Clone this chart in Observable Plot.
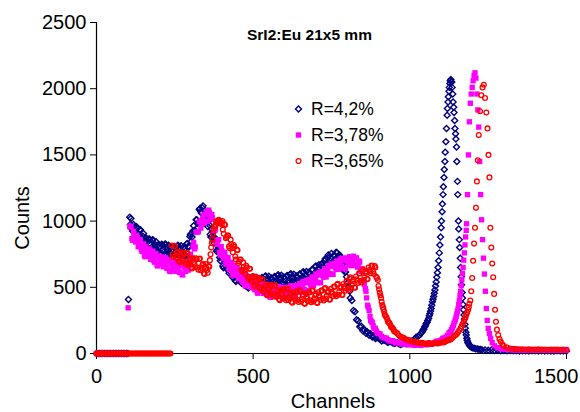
<!DOCTYPE html>
<html>
<head>
<meta charset="utf-8">
<script src="https://cdn.jsdelivr.net/npm/d3@7"></script>
<script src="https://cdn.jsdelivr.net/npm/@observablehq/plot@0.6"></script>
<style>
  html, body { margin: 0; padding: 0; background: #fff; }
  #chart svg { display: block; }
</style>
</head>
<body>
<div id="chart"></div>
<script>
// ---- Data (channel, counts) ----
const titleText = "SrI2:Eu 21x5 mm";
const xLabel = "Channels";
const yLabel = "Counts";
const xTicks = [0, 500, 1000, 1500];
const yTicks = [0, 500, 1000, 1500, 2000, 2500];
const seriesNames = ["R=4,2%", "R=3,78%", "R=3,65%"];
const seriesColors = ["#000080", "#ff00ff", "#ff0000"];

const blueData = [
  [0,0],[5,0],[10,0],[15,0],[20,0],[25,0],[30,0],[35,0],[40,0],[45,0],[50,0],[55,0],[60,0],[65,0],[70,0],[75,0],[80,0],[85,0],[90,0],[95,0],[100,0],
  [102,408],
  [106,1030],[108,975],[110,1020],[115,925],[120,955],[125,885],[130,945],[135,880],[140,935],[145,868],[150,906],[155,820],[160,855],[165,791],[170,858],[175,801],[180,860],[185,799],[190,844],[195,765],[200,806],[205,747],[210,819],[215,766],[220,828],[225,770],[230,818],[235,741],[240,785],[245,729],[250,803],[255,752],[260,817],[265,762],[270,813],[275,740],[280,788],[285,740],[290,830],[295,805],[300,900],[305,880],[310,965],[315,930],[320,1010],[325,990],[330,1095],[335,1060],[340,1115],[345,1040],[350,1065],[355,960],[360,970],[365,880],[370,920],[375,835],[380,865],[385,780],[390,800],[395,700],[400,722],[405,647],[410,705],[415,640],[420,690],[425,622],[430,660],[435,573],[440,608],[445,543],[450,610],[455,552],[460,610],[465,548],[470,592],[475,512],[480,553],[485,495],[490,567],[495,515],[500,578],
  [505,525],[510,575],[515,501],[520,547],[525,493],[530,569],[535,520],[540,586],[545,532],[550,583],[555,509],[560,555],[565,501],[570,577],[575,528],[580,594],[585,540],[590,591],[595,517],[600,563],[605,509],[610,585],[615,536],[620,602],[625,548],[630,599],[635,525],[640,572],[645,519],[650,596],[655,549],[660,617],[665,566],[670,620],[675,550],[680,600],[685,551],[690,632],[695,589],[700,661],[705,613],[710,670],[715,603],[720,680],[725,635],[730,715],[735,675],[740,745],[745,700],[750,755],[755,690],[760,740],[765,765],[770,730],[775,745],[780,705],[785,700],[790,630],[795,615],[800,530],[805,510],[810,420],[815,400],[820,325],[825,315],[830,255],[835,247],[840,202],[845,205],[850,172],[855,178],[860,152],[865,160],[870,137],[875,146],[880,124],[885,131],[890,114],[900,116],[910,94],[920,100],[930,83],[940,89],[950,75],[960,81],[970,68],[980,80],[990,75],[1000,93],[1010,95],[1020,123],[1030,135],
  [113,940],[118,975],[123,895],[128,957],[133,901],[138,934],[143,852],[148,885],[153,840],[158,874],[163,800],[168,866],[173,819],[178,857],[183,781],[188,821],[193,782],[198,823],[203,754],[208,825],[213,782],[218,824],[223,751],[228,794],[233,757],[238,800],[243,734],[248,808],[253,767],[258,812],[263,742],[268,788],[273,754],[278,802],[283,742],[288,828],[293,810],[298,883],[303,846],[308,926],[313,930],[318,1011],[323,981],[328,1088],[333,1070],[338,1100],[343,1028],[348,1050],[353,987],[358,999],[363,899],[368,939],[373,864],[378,874],[383,772],[388,787],[393,725],[398,746],[403,660],[408,717],[413,661],[418,691],[423,607],[428,640],[433,593],[438,627],[443,552],[448,618],[453,570],[458,608],[463,531],[468,569],[473,529],[478,570],[483,501],[488,573],[493,531],[498,574],
  [503,505],[508,550],[513,516],[518,562],[523,498],[528,574],[533,535],[538,581],[543,512],[548,558],[553,524],[558,570],[563,506],[568,582],[573,543],[578,589],[583,520],[588,566],[593,532],[598,578],[603,514],[608,590],[613,551],[618,597],[623,528],[628,574],[633,540],[638,586],[643,523],[648,600],[653,563],[658,611],[663,544],[668,593],[673,563],[678,613],[683,554],[688,635],[693,601],[698,653],[703,590],[708,643],[713,616],[718,670],[723,615],[728,700],[733,670],[738,725],[743,665],[748,720],[753,692],[758,743],[763,682],[768,760],[773,717],[778,732],[783,675],[788,680],[793,615],[798,580],[803,505],[808,470],
  [853,185],[863,165],[873,150],[883,135],[895,118],[905,108],[915,102],[925,92],[935,90],[945,82],[955,80],[965,74],[975,72],[985,76],[995,84],[1005,92],[1015,108],[1025,128],[1035,152],[1042,178],[1047,200],[1052,225],[1057,250],[1062,285],[1066,320],[1070,365],[1074,410],[1078,455],[1082,510],[1086,575],[1090,650],[1094,760],[1098,880],[1101,1000],[1104,1130],[1107,1260],[1110,1390],[1113,1520],[1117,1700],[1120,1850],[1123,1940],[1126,2010],[1129,2060],[1132,2050],[1135,2010],[1138,1900],[1141,1820],[1144,1700],[1147,1620],[1150,1450],[1153,1200],[1156,940],[1159,800],[1162,650],[1165,520],[1168,420],[1171,330],[1174,260],[1177,190],[1180,140],[1183,100],[1187,75],[1192,56],[1197,48],[1205,40],[1215,34],[1225,30],
  [1040,165],[1045,185],[1050,210],[1055,235],[1060,265],[1064,300],[1068,340],[1072,390],[1076,430],[1080,480],[1084,540],[1088,610],[1092,700],[1096,820],[1100,950],[1103,1070],[1106,1200],[1109,1330],[1112,1450],[1115,1600],[1119,1800],[1122,1900],[1125,1980],[1128,2040],[1131,2070],[1134,2050],[1137,1960],[1140,1860],[1143,1760],[1146,1660],[1149,1560],[1152,1300],[1155,1000],[1158,860],[1161,720],[1164,580],[1167,460],[1170,370],[1173,290],[1176,220],[1179,160],[1182,115],[1185,85],[1190,62],[1195,50],[1200,44],[1210,36],[1220,32],[1230,28],[1240,26],[1250,24],[1260,26],[1270,22],[1280,24],[1290,21],[1300,23],[1310,20],[1320,22],[1330,20],[1340,21],[1350,19],[1360,21],[1370,20],[1380,19],[1390,21],[1400,20],[1410,19],[1420,20],[1430,18],[1440,20],[1450,19],[1460,18],[1470,20],[1480,19],[1490,18],[1500,19]
];

const magentaData = [
  [0,0],[5,0],[10,0],[15,0],[20,0],[25,0],[30,0],[35,0],[40,0],[45,0],[50,0],[55,0],[60,0],[65,0],[70,0],[75,0],[80,0],[85,0],[90,0],[95,0],[100,0],
  [101,345],
  [106,960],[110,960],[115,855],[120,895],[125,842],[130,880],[135,820],[140,860],[145,770],[150,828],[155,731],[160,780],[165,735],[170,780],[175,726],[180,773],[185,690],[190,753],[195,661],[200,715],[205,674],[210,723],[215,673],[220,723],[225,643],[230,708],[235,619],[240,675],[245,636],[250,687],[255,638],[260,690],[265,612],[270,680],[275,593],[280,652],[285,620],[290,685],[295,660],[300,750],[305,720],[310,840],[315,805],[320,915],[325,920],[330,1000],[335,975],[340,1045],[345,985],[350,1070],[355,1000],[360,1065],[365,1015],[370,1025],[375,930],[380,940],[385,825],[390,860],[395,745],[400,777],[405,718],[410,751],[415,687],[420,725],[425,634],[430,690],[435,592],[440,640],[445,593],[450,637],[455,582],[460,627],[465,543],[470,604],[475,510],[480,562],[485,519],[490,567],[495,515],[500,563],
  [505,482],[510,546],[515,455],[520,510],[525,470],[530,521],[535,472],[540,523],[545,445],[550,512],[555,424],[560,482],[565,445],[570,498],[575,452],[580,506],[585,430],[590,500],[595,415],[600,475],[605,441],[610,497],[615,454],[620,511],[625,439],[630,512],[635,431],[640,495],[645,465],[650,525],[655,485],[660,545],[665,476],[670,552],[675,474],[680,541],[685,513],[690,575],[695,538],[700,601],[705,534],[710,612],[715,535],[720,603],[725,576],[730,639],[735,602],[740,665],[745,598],[750,676],[755,598],[760,665],[765,636],[770,697],[775,657],[780,717],[785,646],[790,720],[795,639],[800,702],[805,670],[810,727],[815,684],[820,735],[825,666],[830,722],[835,657],[840,690],[845,620],[850,620],[855,520],[860,470],[865,365],[870,325],[875,250],[880,235],[885,192],[890,190],[896,154],[905,148],[915,119],[925,116],[935,95],[945,97],[955,80],[965,85],[975,71],[985,77],[995,65],[1005,73],[1015,62],[1025,71],[1035,61],[1045,73],[1055,65],[1065,79],[1075,75],[1085,93],[1095,93],[1105,115],[1115,123],[1125,155],
  [108,955],[113,868],[118,923],[123,864],[128,892],[133,806],[138,836],[143,786],[148,818],[153,741],[158,805],[163,754],[168,789],[173,710],[178,746],[183,703],[188,741],[193,669],[198,737],[203,691],[208,730],[213,655],[218,695],[223,655],[228,695],[233,626],[238,697],[243,653],[248,694],[253,620],[258,661],[263,623],[268,666],[273,599],[278,672],[283,633],[288,685],[293,630],[298,705],[303,710],[308,805],[313,790],[318,915],[323,920],[328,995],[333,947],[338,1009],[343,989],[348,1049],[353,999],[358,1083],[363,1037],[368,1050],[373,930],[378,928],[383,851],[388,859],[393,762],[398,808],[403,743],[408,765],[413,675],[418,702],[423,650],[428,681],[433,602],[438,665],[443,613],[448,646],[453,566],[458,601],[463,557],[468,593],[473,519],[478,585],[483,537],[488,575],[493,498],[498,536],
  [503,494],[508,533],[513,462],[518,532],[523,487],[528,528],[533,454],[538,495],[543,456],[548,498],[553,430],[558,503],[563,461],[568,504],[573,432],[578,476],[583,440],[588,485],[593,420],[598,495],[603,455],[608,501],[613,433],[618,480],[623,447],[628,495],[633,434],[638,513],[643,478],[648,528],[653,463],[658,513],[663,483],[668,534],[673,476],[678,558],[683,525],[688,577],[693,514],[698,567],[703,540],[708,593],[713,536],[718,619],[723,587],[728,640],[733,578],[738,631],[743,604],[748,657],[753,600],[758,682],[763,648],[768,699],[773,635],[778,685],[783,654],[788,703],[793,642],[798,721],[803,684],[808,731],[813,663],[818,710],[823,676],[828,719],[833,652],[838,699],[843,627],[848,640],[853,550],
  [858,490],[862,420],[867,350],[873,280],[878,240],[883,210],[888,188],[893,170],[900,150],[910,130],[920,118],[930,104],[940,96],[950,88],[960,82],[970,78],[980,74],[990,70],[1000,68],[1010,66],[1020,64],[1030,64],[1040,66],[1050,69],[1060,72],[1070,77],[1080,84],[1090,92],[1100,102],[1110,116],[1120,138],[1128,160],[1133,180],[1139,212],[1144,245],[1148,280],[1152,320],[1156,370],[1160,435],[1164,515],[1168,605],[1172,705],[1176,820],[1180,930],
  [1130,165],[1136,195],[1141,230],[1146,260],[1150,300],[1154,340],[1158,400],[1162,470],[1166,560],[1170,650],[1174,760],[1178,880],[1181,980],[1184,1200],[1187,1500],[1190,1750],[1193,1890],[1196,1960],[1199,2010],[1202,2060],[1205,2100],[1208,2120],[1211,2080],[1214,1960],[1217,1840],[1220,1710],[1223,1450],[1226,1200],[1229,1010],[1232,860],[1235,720],[1238,600],[1241,470],[1244,340],[1247,250],[1250,190],[1254,150],[1258,115],[1263,82],[1270,58],[1280,44],[1290,36],[1300,33],[1310,30],[1320,29],[1330,27],[1340,28],[1350,26],[1360,27],[1370,25],[1380,27],[1390,26],[1400,25],[1410,26],[1420,24],[1430,26],[1440,25],[1450,24],[1460,25],[1470,24],[1480,25],[1490,24],[1500,23]
];

const redData = [
  [0,0],[4,0],[8,0],[12,0],[16,0],[20,0],[24,0],[28,0],[32,0],[36,0],[40,0],[44,0],[48,0],[52,0],[56,0],[60,0],[64,0],[68,0],[72,0],[76,0],[80,0],[84,0],[88,0],[92,0],[96,0],[100,0],[104,0],[108,0],[112,0],[116,0],[120,0],[124,0],[128,0],[132,0],[136,0],[140,0],[144,0],[148,0],[152,0],[156,0],[160,0],[164,0],[168,0],[172,0],[176,0],[180,0],[184,0],[188,0],[192,0],[196,0],[200,0],[204,0],[208,0],[212,0],[216,0],[220,0],[224,0],[228,0],[232,0],[236,0],
  [240,815],[245,730],[250,812],[255,740],[260,768],[265,690],[270,738],[275,697],[280,755],[285,674],[290,758],[295,687],[300,717],[305,642],[310,692],[315,652],[320,712],[325,632],[330,717],[335,647],[340,676],[345,600],[350,648],[355,610],[358,660],[362,705],[366,800],[370,860],[374,940],[378,955],[382,995],[386,990],[390,1010],[394,985],[398,990],
  [402,1000],[406,905],[410,970],[415,880],[420,890],[425,795],[430,825],[435,765],[440,805],[445,710],[450,780],[455,695],[460,710],[465,620],[470,655],[475,602],[480,650],[485,562],[490,640],[495,563],[500,585],[505,505],[510,550],[515,506],[520,563],[525,479],[530,560],[535,488],[540,516],[545,440],[550,490],[555,450],[560,510],[565,430],[570,515],[575,446],[580,477],[585,403],[590,455],[595,417],[600,480],[605,402],[610,490],[615,423],[620,456],[625,384],[630,437],[635,401],[640,465],[645,389],[650,478],[655,412],[660,446],[665,375],[670,430],[675,395],[680,461],[685,387],[690,478],[695,414],[700,450],[705,382],[710,439],[715,406],[720,473],[725,401],[730,495],[735,433],[740,472],[745,406],[750,465],[755,434],[760,503],[765,432],[770,526],[775,466],[780,506],[785,442],[790,503],[795,474],[800,545],[805,477],[810,575],[815,517],[820,560],[825,497],[830,560],[835,532],[840,605],[845,537],[850,635],[855,577],[860,620],[865,562],[870,630],[875,606],[880,660],[885,600],[890,650],[895,570],
  [243,749],[248,810],[253,723],[258,761],[263,698],[268,766],[273,719],[278,763],[283,691],[288,755],[293,669],[298,709],[303,649],[308,719],[313,674],[318,719],[323,649],[328,714],[333,629],[338,668],[343,607],[348,676],[353,631],[360,655],[364,750],[368,835],[372,905],[376,960],[380,970],[384,1000],[388,985],[392,1000],[396,990],[400,975],
  [403,935],[408,977],[413,870],[418,890],[423,810],[428,860],[433,795],[438,820],[443,733],[448,783],[453,683],[458,708],[463,633],[468,688],[473,629],[478,662],[483,582],[488,640],[493,548],[498,580],[503,514],[508,579],[513,530],[518,571],[523,498],[528,559],[533,471],[538,509],[543,447],[548,517],[553,472],[558,517],[563,447],[568,512],[573,428],[578,469],[583,410],[588,481],[593,438],[598,486],[603,418],[608,486],[613,404],[618,447],[623,390],[628,463],[633,421],[638,470],[643,404],[648,473],[653,392],[658,436],[663,380],[668,455],[673,415],[678,465],[683,401],[688,472],[693,393],[698,439],[703,386],[708,463],[713,425],[718,477],[723,415],[728,488],[733,412],[738,460],[743,409],[748,488],[753,452],[758,506],[763,445],[768,519],[773,444],[778,494],[783,444],[788,525],[793,491],[798,547],[803,489],[808,566],[813,494],[818,546],[823,499],[828,581],[833,549],[838,606],[843,549],[848,626],[853,554],[858,606],[863,562],[868,650],[873,622],[878,665],[883,618],[888,660],[893,580],[898,555],
  [900,510],[904,460],[908,420],[912,365],[916,335],[920,295],[925,275],[930,240],[935,228],[940,200],[945,192],[950,168],[960,152],[970,126],[980,119],[990,103],[1000,99],[1010,87],[1020,88],[1030,78],[1040,80],[1050,73],[1060,78],[1070,72],[1080,79],[1090,75],[1100,85],[1110,85],[1120,99],[1130,105],[1140,128],[1150,147],
  [902,485],[906,440],[910,390],[914,350],[918,315],[922,285],[928,258],[933,235],[938,215],[943,196],[948,180],[955,160],[965,138],[975,122],[985,110],[995,100],[1005,93],[1015,88],[1025,82],[1035,80],[1045,76],[1055,75],[1065,74],[1075,76],[1085,77],[1095,80],[1105,83],[1115,92],[1125,102],[1135,115],[1145,138],[1154,160],[1162,190],[1168,220],[1175,258],[1180,292],[1186,330],[1190,375],
  [1158,175],[1165,205],[1172,240],[1178,275],[1183,310],[1188,350],[1193,400],[1196,470],[1199,570],[1202,700],[1205,830],[1208,950],[1211,1100],[1214,1300],[1217,1460],[1220,1650],[1224,1830],[1228,1950],[1232,2010],[1236,2030],[1240,1930],[1244,1820],[1248,1700],[1251,1500],[1254,1330],[1257,950],[1260,800],[1263,680],[1266,576],[1269,450],[1272,330],[1275,240],[1278,180],[1282,140],[1286,110],[1290,90],[1295,70],[1300,56],[1310,45],[1320,38],[1330,35],[1340,33],[1350,31],[1360,32],[1370,30],[1380,31],[1390,29],[1400,30],[1410,31],[1420,29],[1430,30],[1440,28],[1450,30],[1460,29],[1470,30],[1480,28],[1490,29],[1500,28]
];

// ---- Chart ----
const W = 580, H = 412;
const fmt = d => String(d);
const font = "'Liberation Sans', Arial, sans-serif";
const chart = Plot.plot({
  width: W, height: H,
  marginLeft: 96, marginRight: 14, marginTop: 22, marginBottom: 59,
  style: { fontFamily: font, fontSize: "20px", color: "#000", background: "#fff", overflow: "visible" },
  x: { domain: [0, 1500], ticks: xTicks, tickFormat: fmt, tickSize: 6, tickPadding: 9, label: null },
  y: { domain: [0, 2500], ticks: yTicks, tickFormat: fmt, tickSize: 6, tickPadding: 4, label: null },
  marks: [
    Plot.ruleX([0], { stroke: "#000", strokeWidth: 1.2 }),
    Plot.ruleY([0], { stroke: "#000", strokeWidth: 1.2 }),
    Plot.dot(blueData, { x: d => d[0], y: d => d[1], symbol: "diamond2", r: 2.7, stroke: seriesColors[0], strokeWidth: 1.4, fill: "none" }),
    Plot.dot(magentaData, { x: d => d[0], y: d => d[1], symbol: "square", r: 3, fill: seriesColors[1], stroke: "none" }),
    Plot.dot(redData, { x: d => d[0], y: d => d[1], symbol: "circle", r: 2.4, stroke: seriesColors[2], strokeWidth: 1.3, fill: "none" })
  ]
});
document.getElementById("chart").appendChild(chart);

const svg = d3.select(chart);
// keep the last x tick label inside the picture, as in the reference
svg.selectAll("text").filter(function () { return this.textContent === "1500" && this.closest("[aria-label='x-axis tick label']"); })
  .attr("text-anchor", "end").attr("dx", 12);

// ---- Title, axis labels, legend ----
svg.append("text").attr("x", 247).attr("y", 39.5).attr("text-anchor", "start").attr("font-family", font)
  .attr("font-size", 15.5).attr("font-weight", "bold").attr("fill", "#000").text(titleText);
svg.append("text").attr("x", 333).attr("y", 408).attr("text-anchor", "middle").attr("font-family", font)
  .attr("font-size", 20).attr("fill", "#000").text(xLabel);
svg.append("text").attr("transform", "translate(29,218) rotate(-90)").attr("text-anchor", "middle").attr("font-family", font)
  .attr("font-size", 20).attr("fill", "#000").text(yLabel);

const legend = svg.append("g");
const legSyms = [
  { sym: d3.symbolDiamond2, r: 2.7, fill: "none", stroke: seriesColors[0], sw: 1.4 },
  { sym: d3.symbolSquare, r: 3, fill: seriesColors[1], stroke: "none", sw: 0 },
  { sym: d3.symbolCircle, r: 2.4, fill: "none", stroke: seriesColors[2], sw: 1.3 }
];
seriesNames.forEach((name, i) => {
  const cy = 109 + i * 26;
  const s = legSyms[i];
  legend.append("path").attr("transform", `translate(298.5,${cy})`)
    .attr("d", d3.symbol(s.sym, Math.PI * s.r * s.r)())
    .attr("fill", s.fill).attr("stroke", s.stroke).attr("stroke-width", s.sw);
  legend.append("text").attr("x", 311).attr("y", cy + 6).attr("text-anchor", "start").attr("font-family", font)
    .attr("font-size", 17.5).attr("fill", "#000").text(name);
});
</script>
</body>
</html>
